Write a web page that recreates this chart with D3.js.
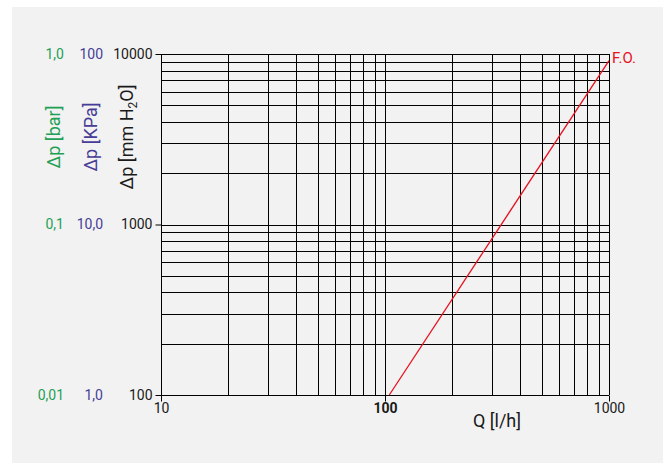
<!DOCTYPE html>
<html><head><meta charset="utf-8">
<script src="https://cdn.jsdelivr.net/npm/d3@7"></script>
<style>
html,body{margin:0;padding:0;background:#fff;}
text{font-family:Roboto,"Noto Sans",sans-serif;}
</style></head>
<body>
<svg id="c" width="668" height="463"></svg>
<script>
const xTickValues = [10, 100, 1000];
const xTickLabels = ["10", "100", "1000"];
const yTickValues = [100, 1000, 10000];
const yLabelsMM = ["100", "1000", "10000"];
const yLabelsKPa = ["1,0", "10,0", "100"];
const yLabelsBar = ["0,01", "0,1", "1,0"];
const curveQ = [104.5, 1000];
const curveDp = [100, 9157];
const curveName = "F.O.";

const svg = d3.select("#c");
svg.append("rect").attr("x", 12).attr("y", 7).attr("width", 651).attr("height", 456).attr("fill", "#f2f2f2");

const L = 161, R = 609, T = 54, B = 395;
const x = d3.scaleLog().domain([10, 1000]).range([L, R]);
const y = d3.scaleLog().domain([100, 10000]).range([B, T]);

const g = svg.append("g");
g.selectAll(".vg").data(x.ticks()).join("line")
  .attr("x1", d => Math.round(x(d)) + 0.5).attr("x2", d => Math.round(x(d)) + 0.5)
  .attr("y1", T).attr("y2", B).attr("stroke", "#000").attr("stroke-width", 1);
g.selectAll(".hg").data(y.ticks()).join("line")
  .attr("y1", d => Math.round(y(d)) + 0.5).attr("y2", d => Math.round(y(d)) + 0.5)
  .attr("x1", L).attr("x2", R).attr("stroke", "#000").attr("stroke-width", 1);

const xAxis = d3.axisBottom(x).tickValues(xTickValues).tickFormat((d, i) => xTickLabels[i]).tickSize(6).tickPadding(2);
const gx = svg.append("g").attr("transform", `translate(0,${B + 0.5})`).call(xAxis);
gx.select(".domain").remove();
gx.selectAll("text").attr("font-size", 14).attr("fill", "#1a1a1a").attr("font-family", "Roboto");
gx.selectAll("text").filter((d) => d === 100).attr("font-weight", "bold");

const yAxis = d3.axisLeft(y).tickValues(yTickValues).tickFormat((d, i) => yLabelsMM[i]).tickSize(6).tickPadding(3);
const gy = svg.append("g").attr("transform", `translate(${L + 0.5},0)`).call(yAxis);
gy.select(".domain").remove();
gy.selectAll("text").attr("font-size", 14).attr("fill", "#1a1a1a").attr("font-family", "Roboto");

svg.selectAll(".kpa").data(yTickValues).join("text")
  .attr("x", 103).attr("y", d => y(d)).attr("dy", "0.35em").attr("text-anchor", "end")
  .attr("font-size", 14).attr("fill", "#463d96").text((d, i) => yLabelsKPa[i]);
svg.selectAll(".bar").data(yTickValues).join("text")
  .attr("x", 64).attr("y", d => y(d)).attr("dy", "0.35em").attr("text-anchor", "end")
  .attr("font-size", 14).attr("fill", "#1fa055").text((d, i) => yLabelsBar[i]);

svg.append("text").attr("transform", "translate(60,137) rotate(-90)").attr("text-anchor", "middle")
  .attr("font-size", 18).attr("fill", "#1fa055").text("Δp [bar]");
svg.append("text").attr("transform", "translate(97,137) rotate(-90)").attr("text-anchor", "middle")
  .attr("font-size", 18).attr("fill", "#463d96").text("Δp [KPa]");
const t3 = svg.append("text").attr("transform", "translate(133,137) rotate(-90)").attr("text-anchor", "middle")
  .attr("font-size", 18).attr("fill", "#1a1a1a");
t3.append("tspan").text("Δp [mm H");
t3.append("tspan").attr("font-size", 12).attr("dy", 4).text("2");
t3.append("tspan").attr("dy", -4).text("O]");

svg.append("text").attr("x", 497).attr("y", 427).attr("text-anchor", "middle")
  .attr("font-size", 18).attr("fill", "#1a1a1a").text("Q [l/h]");

const pts = curveQ.map((q, i) => [q, curveDp[i]]);
svg.append("path").attr("d", d3.line().x(d => x(d[0])).y(d => y(d[1]))(pts))
  .attr("fill", "none").attr("stroke", "#e8101e").attr("stroke-width", 1.3);
svg.append("text").attr("x", x(curveQ[1]) + 3).attr("y", y(curveDp[1]) + 2)
  .attr("font-size", 15).attr("fill", "#e8101e").text(curveName);
</script>
</body></html>
